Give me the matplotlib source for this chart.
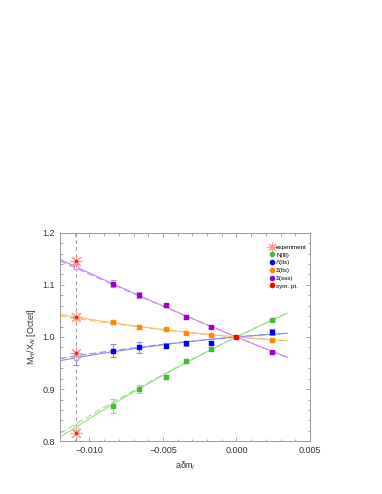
import numpy as np
import matplotlib
matplotlib.use("Agg")
import matplotlib.pyplot as plt
from matplotlib.ticker import MultipleLocator
from matplotlib.lines import Line2D

plt.rcParams['font.family'] = ['Liberation Sans', 'DejaVu Sans']

# data
x_pts = [-0.00837, -0.00666, -0.00477, -0.00341, -0.00173, 0.00241]
x_phys = -0.0109

series_names = ["N(lll)", "\u039b(lls)", "\u03a3(lls)", "\u03a3(sss)"]
N_vals = [0.868, 0.900, 0.923, 0.954, 0.977, 1.033]
N_errs = [0.013, 0.008, 0.004, 0.003, 0.003, 0.002]
L_vals = [0.974, 0.980, 0.983, 0.988, 0.988, 1.009]
L_errs = [0.013, 0.011, 0.005, 0.005, 0.004, 0.006]
S_vals = [1.029, 1.019, 1.016, 1.008, 1.0045, 0.994]
S_errs = [0.004, 0.003, 0.002, 0.002, 0.002, 0.002]
X_vals = [1.102, 1.080, 1.061, 1.038, 1.0186, 0.971]
X_errs = [0.007, 0.006, 0.003, 0.003, 0.002, 0.002]

# experiment values at physical point
exp_vals = [0.8153, 0.9699, 1.0378, 1.1457]
# extrapolated values (open circles) and errors
extrap_vals = [0.826, 0.960, 1.036, 1.135]
extrap_errs = [0.006, 0.013, 0.004, 0.004]

# fit coefficients: solid y = 1 + a x + b x^2 ; dashed y = 1 + a x + b2 x^2
fit_a = [13.78, 2.42, -2.38, -11.55]
fit_b = [-187.0, -113.5, 103.0, 71.0]
fit_b2 = [-136.0, -82.5, 80.0, 50.0]
x_fit_range = [-0.012, 0.00345]

sym_x = [0.0]
sym_y = [1.0]

marker_cols = ['#44bb33', '#0000ee', '#ff8800', '#9900cc']
line_cols = ['#99dd88', '#8888ff', '#ffbb66', '#cc88ee']

fig = plt.figure(figsize=(3.82, 4.94), dpi=100)
ax = fig.add_axes([0.157, 0.1067, 0.6545, 0.4223])

ax.axvline(x_phys, color='#999999', lw=0.7, ls=(0, (4, 3)), zorder=1)

xf = np.linspace(x_fit_range[0], x_fit_range[1], 200)
all_vals = [N_vals, L_vals, S_vals, X_vals]
all_errs = [N_errs, L_errs, S_errs, X_errs]
for i in range(4):
    ax.plot(xf, 1 + fit_a[i] * xf + fit_b[i] * xf ** 2, color=line_cols[i], lw=0.8, zorder=2)
    ax.plot(xf, 1 + fit_a[i] * xf + fit_b2[i] * xf ** 2, color=line_cols[i], lw=0.8,
            ls=(0, (6, 3)), zorder=2)
    ax.errorbar(x_pts, all_vals[i], yerr=all_errs[i], fmt='none', ecolor=line_cols[i],
                elinewidth=0.8, capsize=2, capthick=0.8, zorder=3)
    ax.plot(x_pts, all_vals[i], 's', color=marker_cols[i], ms=3.0, mec=marker_cols[i], zorder=4)
    ax.errorbar([x_phys], [extrap_vals[i]], yerr=[extrap_errs[i]], fmt='o', mfc='white',
                mec=line_cols[i], ecolor=line_cols[i], ms=3.5, mew=0.7, elinewidth=0.8,
                capsize=2, capthick=0.8, zorder=3)

ax.plot([x_phys] * 4, exp_vals, ls='none', marker=(8, 2, 0), ms=9, mew=0.8, color='#ff9999', zorder=5)
ax.plot([x_phys] * 4, exp_vals, ls='none', marker='o', ms=1.5, color='#ee2222', zorder=6)
ax.plot(sym_x, sym_y, 's', color='#ff0000', ms=3.0, zorder=6)

ax.set_xlim(-0.012, 0.005)
ax.set_ylim(0.8, 1.2)
ax.xaxis.set_major_locator(MultipleLocator(0.005))
ax.xaxis.set_minor_locator(MultipleLocator(0.001))
ax.yaxis.set_major_locator(MultipleLocator(0.1))
ax.yaxis.set_minor_locator(MultipleLocator(0.02))
ax.xaxis.set_major_formatter(matplotlib.ticker.FuncFormatter(
    lambda v, p: ("%.3f" % v).replace('-', '\u2212') if abs(v) > 1e-9 else "0.000"))
ax.yaxis.set_major_formatter(matplotlib.ticker.FormatStrFormatter('%.1f'))
ax.tick_params(which='both', direction='in', top=True, right=True, colors='#999999',
               labelcolor='#333333', labelsize=6.5, width=0.6)
ax.tick_params(which='major', length=3)
ax.tick_params(which='minor', length=1.8)
for sp in ax.spines.values():
    sp.set_color('#999999')
    sp.set_linewidth(0.7)

ax.set_xlabel('a\u03b4m$_l$', fontsize=6.5, color='#333333', labelpad=3)
ax.set_ylabel('M$_H$/X$_N$ [Octet]', fontsize=6.5, color='#333333', labelpad=3)

leg_handles = [Line2D([], [], ls='none', marker=(8, 2, 0), ms=7, mew=0.8, color='#ff9999')]
for i in range(4):
    leg_handles.append(Line2D([], [], ls='none', marker='o', ms=3, color=marker_cols[i]))
leg_handles.append(Line2D([], [], ls='none', marker='o', ms=3, color='#ff0000'))
labels = ['experiment'] + series_names + ['sym. pt.']
ax.legend(leg_handles, labels, loc='upper right', bbox_to_anchor=(1.01, 0.97), frameon=False,
          fontsize=4.5, handlelength=0.8, handletextpad=0.3, labelspacing=0.38, borderaxespad=0.5)

fig.savefig('out.png', dpi=100)
